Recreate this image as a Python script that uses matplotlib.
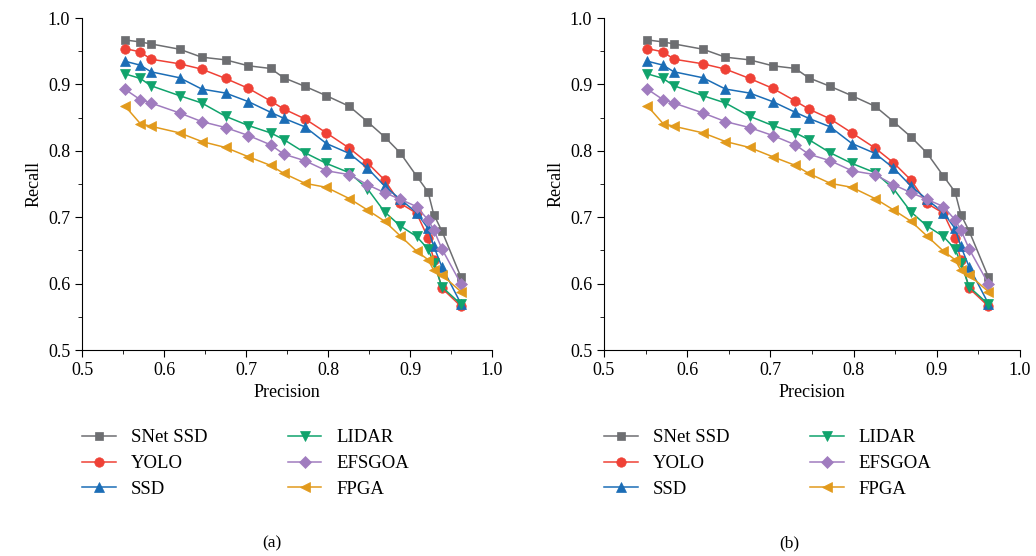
import matplotlib.pyplot as plt
from matplotlib.ticker import MultipleLocator

# precision (shared x grid) and recall per method
precision = [0.552, 0.571, 0.584, 0.619, 0.646, 0.675, 0.703, 0.730, 0.746, 0.772,
             0.798, 0.826, 0.848, 0.869, 0.888, 0.908, 0.922, 0.929, 0.939, 0.962]
snet_ssd = [0.967, 0.964, 0.961, 0.953, 0.941, 0.937, 0.928, 0.924, 0.910, 0.897,
            0.883, 0.867, 0.844, 0.821, 0.797, 0.762, 0.738, 0.704, 0.679, 0.610]
yolo = [0.954, 0.949, 0.938, 0.931, 0.923, 0.909, 0.894, 0.875, 0.863, 0.848,
        0.827, 0.804, 0.782, 0.756, 0.721, 0.706, 0.669, 0.636, 0.593, 0.566]
ssd = [0.935, 0.929, 0.919, 0.910, 0.893, 0.887, 0.874, 0.858, 0.849, 0.836,
       0.811, 0.796, 0.774, 0.747, 0.727, 0.707, 0.683, 0.656, 0.625, 0.570]
lidar = [0.916, 0.909, 0.898, 0.883, 0.872, 0.852, 0.838, 0.827, 0.817, 0.797,
         0.781, 0.767, 0.743, 0.708, 0.687, 0.671, 0.652, 0.631, 0.595, 0.569]
efsgoa = [0.893, 0.877, 0.872, 0.857, 0.844, 0.835, 0.823, 0.809, 0.795, 0.785,
          0.770, 0.764, 0.749, 0.737, 0.727, 0.716, 0.696, 0.681, 0.652, 0.600]
fpga = [0.868, 0.841, 0.837, 0.827, 0.814, 0.805, 0.791, 0.778, 0.766, 0.751,
        0.745, 0.728, 0.711, 0.694, 0.672, 0.649, 0.636, 0.620, 0.613, 0.588]

labels = ["SNet SSD", "YOLO", "SSD", "LIDAR", "EFSGOA", "FPGA"]
series = [snet_ssd, yolo, ssd, lidar, efsgoa, fpga]
colors = ["#6d6e71", "#ef4136", "#1b6db6", "#10a36c", "#a07cbf", "#e29a1c"]
markers = ["s", "o", "^", "v", "D", "<"]
msizes = [5.8, 6.8, 7.8, 7.8, 6.3, 7.8]
panels = ["(a)", "(b)"]

plt.rcParams["font.family"] = ["Liberation Serif", "DejaVu Serif"]

fig = plt.figure(figsize=(10.36, 5.56), dpi=100)
rects = [[0.0792, 0.3705, 0.3957, 0.5971], [0.583, 0.3705, 0.4015, 0.5971]]
legend_x = [0.079, 0.583]
label_x = [0.262, 0.762]

for i, rect in enumerate(rects):
    ax = fig.add_axes(rect)
    for y, lab, c, m, ms in zip(series, labels, colors, markers, msizes):
        ax.plot(precision, y, color=c, marker=m, markersize=ms, linewidth=1.1,
                label=lab, markeredgewidth=0.5, markeredgecolor=c)
    ax.set_xlim(0.5, 1.0)
    ax.set_ylim(0.5, 1.0)
    ax.xaxis.set_major_locator(MultipleLocator(0.1))
    ax.yaxis.set_major_locator(MultipleLocator(0.1))
    ax.xaxis.set_minor_locator(MultipleLocator(0.05))
    ax.yaxis.set_minor_locator(MultipleLocator(0.05))
    ax.spines["top"].set_visible(False)
    ax.spines["right"].set_visible(False)
    ax.tick_params(which="major", direction="out", length=5, labelsize=13)
    ax.tick_params(which="minor", direction="out", length=3)
    ax.set_xlabel("Precision", fontsize=13)
    ax.set_ylabel("Recall", fontsize=13)
    ax.legend(ncol=2, loc="upper left", bbox_to_anchor=(legend_x[i], 0.228),
              bbox_transform=fig.transFigure, frameon=False, fontsize=13.5,
              handlelength=1.8, handletextpad=0.8, columnspacing=4.3,
              labelspacing=0.46, borderpad=0, borderaxespad=0)
    fig.text(label_x[i], 0.023, panels[i], ha="center", va="center", fontsize=12.5)

fig.savefig("out.png", dpi=100)
